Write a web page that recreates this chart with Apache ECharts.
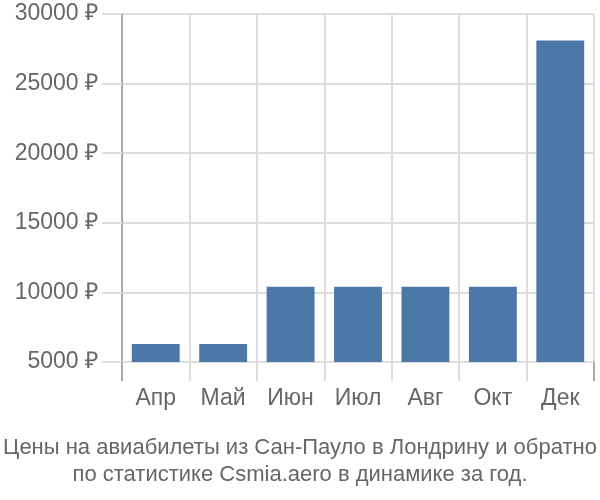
<!DOCTYPE html>
<html><head><meta charset="utf-8">
<script src="https://cdn.jsdelivr.net/npm/echarts@6/dist/echarts.min.js"></script>
<style>html,body{margin:0;padding:0;background:#fff}#c{width:600px;height:500px}</style>
</head><body><div id="c"></div>
<script>
const categories = ['Апр', 'Май', 'Июн', 'Июл', 'Авг', 'Окт', 'Дек'];
const prices = [6300, 6300, 10400, 10400, 10400, 10400, 28100];
const yTicks = [5000, 10000, 15000, 20000, 25000, 30000];
const titleLines = ['Цены на авиабилеты из Сан-Пауло в Лондрину и обратно', 'по статистике Csmia.aero в динамике за год.'];

const chart = echarts.init(document.getElementById('c'), null, {renderer: 'canvas'});
chart.setOption({
  animation: false,
  title: {
    text: titleLines.join('\n'),
    left: 'center',
    bottom: 7,
    textStyle: {fontFamily: 'Liberation Sans', fontSize: 22, fontWeight: 'normal', color: '#666', lineHeight: 27}
  },
  grid: {left: 122, right: 6, top: 14, bottom: 138, containLabel: false},
  xAxis: [{
    type: 'category',
    data: categories,
    boundaryGap: true,
    axisLine: {show: true, lineStyle: {color: '#ddd', width: 2}},
    axisTick: {show: true, length: 19, lineStyle: {color: '#ddd', width: 2}},
    splitLine: {show: true, lineStyle: {color: '#ddd', width: 2}},
    axisLabel: {fontFamily: 'Liberation Sans', fontSize: 23, color: '#666', margin: 25}
  }, {
    type: 'category',
    data: categories,
    position: 'bottom',
    boundaryGap: true,
    axisLine: {show: false},
    axisTick: {show: true, length: 19, interval: (i) => i === 0, lineStyle: {color: '#aaa', width: 2}},
    splitLine: {show: false},
    axisLabel: {show: false}
  }],
  yAxis: {
    type: 'value',
    min: yTicks[0],
    max: yTicks[yTicks.length - 1],
    interval: 5000,
    axisLine: {show: true, lineStyle: {color: '#aaa', width: 2}},
    axisTick: {show: true, length: 20, lineStyle: {color: '#ddd', width: 2}},
    splitLine: {show: true, lineStyle: {color: '#ddd', width: 2}},
    axisLabel: {fontFamily: 'Liberation Sans', fontSize: 23, color: '#666', margin: 24,
      formatter: v => v + ' ₽'}
  },
  series: [{
    type: 'bar',
    data: prices,
    barWidth: '71%',
    itemStyle: {color: '#4c78a8'}
  }]
});
</script></body></html>
